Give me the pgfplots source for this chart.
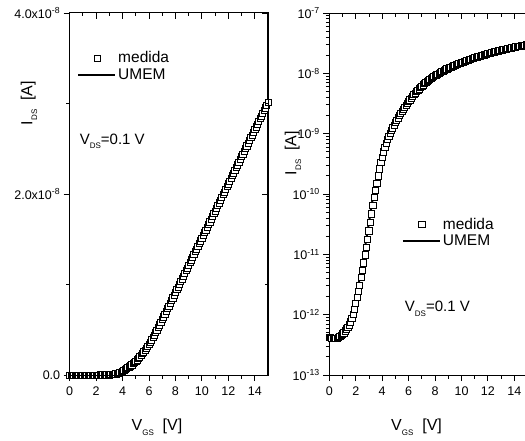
\documentclass[border=0pt]{standalone}
\usepackage{fontspec}
\setmainfont{Liberation Sans}
\usepackage{pgfplots}
\usepackage{pgfplotstable}
\pgfplotsset{compat=1.18}
\newcommand{\sub}[1]{\raisebox{-0.55ex}{\fontsize{8}{8}\selectfont #1}}

% V [V], m = medida [A], u = UMEM [A]
\pgfplotstableread{
V m u
0.0 4.2e-13 4.2e-13
0.1 4.2e-13 4.2e-13
0.2 4.1e-13 4.1e-13
0.3 4.0e-13 4.0e-13
0.4 4.0e-13 4.0e-13
0.5 4.0e-13 4.0e-13
0.6 4.1e-13 4.1e-13
0.7 4.2e-13 4.2e-13
0.8 4.4e-13 4.4e-13
0.9 4.6e-13 4.6e-13
1.0 4.8e-13 4.8e-13
1.1 5.0e-13 5.0e-13
1.2 5.4e-13 5.4e-13
1.3 5.8e-13 5.8e-13
1.4 6.2e-13 6.5e-13
1.5 6.8e-13 7.4e-13
1.6 7.6e-13 8.7e-13
1.7 8.7e-13 1.0e-12
1.8 1.0e-12 1.23e-12
1.9 1.23e-12 1.55e-12
2.0 1.55e-12 1.95e-12
2.1 1.95e-12 2.45e-12
2.2 2.45e-12 3.1e-12
2.3 3.1e-12 4.1e-12
2.4 4.1e-12 5.4e-12
2.5 5.4e-12 7.2e-12
2.6 7.2e-12 9.8e-12
2.7 9.8e-12 1.32e-11
2.8 1.32e-11 1.78e-11
2.9 1.78e-11 2.45e-11
3.0 2.45e-11 3.4e-11
3.1 3.4e-11 4.7e-11
3.2 4.7e-11 6.5e-11
3.3 6.5e-11 8.7e-11
3.4 8.7e-11 1.15e-10
3.5 1.15e-10 1.51e-10
3.6 1.51e-10 2.0e-10
3.7 2.0e-10 2.6e-10
3.8 2.6e-10 3.3e-10
3.9 3.3e-10 4.1e-10
4.0 4.1e-10 5.0e-10
4.1 5.0e-10 6.0e-10
4.2 6.0e-10 7.0e-10
4.3 7.0e-10 8.0e-10
4.4 8.0e-10 9.0e-10
4.5 9.0e-10 1.0e-9
4.6 1.0e-9 1.12e-9
4.7 1.12e-9 1.25e-9
4.8 1.25e-9 1.38e-9
4.9 1.38e-9 1.52e-9
5.0 1.52e-9 1.67e-9
5.1 1.67e-9 1.83e-9
5.2 1.83e-9 2.0e-9
5.3 2.0e-9 2.17e-9
5.4 2.17e-9 2.35e-9
5.5 2.35e-9 2.55e-9
5.6 2.55e-9 2.75e-9
5.7 2.75e-9 2.96e-9
5.8 2.96e-9 3.17e-9
5.9 3.17e-9 3.4e-9
6.0 3.4e-9 3.64e-9
6.1 3.64e-9 3.89e-9
6.2 3.89e-9 4.15e-9
6.3 4.15e-9 4.42e-9
6.4 4.42e-9 4.69e-9
6.5 4.69e-9 4.97e-9
6.6 4.97e-9 5.25e-9
6.7 5.25e-9 5.54e-9
6.8 5.54e-9 5.83e-9
6.9 5.83e-9 6.12e-9
7.0 6.12e-9 6.42e-9
7.1 6.42e-9 6.72e-9
7.2 6.72e-9 7.02e-9
7.3 7.02e-9 7.32e-9
7.4 7.32e-9 7.62e-9
7.5 7.62e-9 7.92e-9
7.6 7.92e-9 8.22e-9
7.7 8.22e-9 8.52e-9
7.8 8.52e-9 8.82e-9
7.9 8.82e-9 9.12e-9
8.0 9.12e-9 9.42e-9
8.1 9.42e-9 9.72e-9
8.2 9.72e-9 10.02e-9
8.3 10.02e-9 10.32e-9
8.4 10.32e-9 10.62e-9
8.5 10.62e-9 10.92e-9
8.6 10.92e-9 11.22e-9
8.7 11.22e-9 11.52e-9
8.8 11.52e-9 11.82e-9
8.9 11.82e-9 12.12e-9
9.0 12.12e-9 12.42e-9
9.1 12.42e-9 12.72e-9
9.2 12.72e-9 13.02e-9
9.3 13.02e-9 13.32e-9
9.4 13.32e-9 13.62e-9
9.5 13.62e-9 13.92e-9
9.6 13.92e-9 14.22e-9
9.7 14.22e-9 14.52e-9
9.8 14.52e-9 14.82e-9
9.9 14.82e-9 15.12e-9
10.0 15.12e-9 15.42e-9
10.1 15.42e-9 15.72e-9
10.2 15.72e-9 16.02e-9
10.3 16.02e-9 16.32e-9
10.4 16.32e-9 16.62e-9
10.5 16.62e-9 16.92e-9
10.6 16.92e-9 17.22e-9
10.7 17.22e-9 17.52e-9
10.8 17.52e-9 17.82e-9
10.9 17.82e-9 18.12e-9
11.0 18.12e-9 18.42e-9
11.1 18.42e-9 18.72e-9
11.2 18.72e-9 19.02e-9
11.3 19.02e-9 19.32e-9
11.4 19.32e-9 19.62e-9
11.5 19.62e-9 19.92e-9
11.6 19.92e-9 20.22e-9
11.7 20.22e-9 20.52e-9
11.8 20.52e-9 20.82e-9
11.9 20.82e-9 21.12e-9
12.0 21.12e-9 21.42e-9
12.1 21.42e-9 21.72e-9
12.2 21.72e-9 22.02e-9
12.3 22.02e-9 22.32e-9
12.4 22.32e-9 22.62e-9
12.5 22.62e-9 22.92e-9
12.6 22.92e-9 23.22e-9
12.7 23.22e-9 23.52e-9
12.8 23.52e-9 23.82e-9
12.9 23.82e-9 24.12e-9
13.0 24.12e-9 24.42e-9
13.1 24.42e-9 24.72e-9
13.2 24.72e-9 25.02e-9
13.3 25.02e-9 25.32e-9
13.4 25.32e-9 25.62e-9
13.5 25.62e-9 25.92e-9
13.6 25.92e-9 26.22e-9
13.7 26.22e-9 26.52e-9
13.8 26.52e-9 26.82e-9
13.9 26.82e-9 27.12e-9
14.0 27.12e-9 27.42e-9
14.1 27.42e-9 27.72e-9
14.2 27.72e-9 28.02e-9
14.3 28.02e-9 28.32e-9
14.4 28.32e-9 28.62e-9
14.5 28.62e-9 28.92e-9
14.6 28.92e-9 29.22e-9
14.7 29.22e-9 29.52e-9
14.8 29.52e-9 29.82e-9
14.9 29.82e-9 30.12e-9
15.0 30.12e-9 30.42e-9
}\datatable

\pgfplotsset{
  common/.style={
    scale only axis, width=198.3pt, height=362pt,
    anchor=south west,
    xmin=0, xmax=15,
    xtick={0,2,4,6,8,10,12,14},
    minor xtick={1,3,5,7,9,11,13},
    axis line style={line width=1pt},
    major tick length=6pt, minor tick length=3.5pt,
    every tick/.style={black, line width=0.9pt},
    tick label style={font=\fontsize{12.5}{12.5}\selectfont},
    xticklabel style={yshift=-2pt},
    /pgf/number format/assume math mode=true,
    scaled y ticks=false,
  },
  linY/.style={
    ymin=0, ymax=4e-8,
    ytick={0,2e-8,4e-8},
    minor ytick={1e-8,3e-8},
  },
  logY/.style={
    ymin=1e-13, ymax=1e-7,
    ytick={1e-13,1e-12,1e-11,1e-10,1e-9,1e-8,1e-7},
    minor ytick={2e-13,3e-13,4e-13,5e-13,6e-13,7e-13,8e-13,9e-13,
                 2e-12,3e-12,4e-12,5e-12,6e-12,7e-12,8e-12,9e-12,
                 2e-11,3e-11,4e-11,5e-11,6e-11,7e-11,8e-11,9e-11,
                 2e-10,3e-10,4e-10,5e-10,6e-10,7e-10,8e-10,9e-10,
                 2e-9,3e-9,4e-9,5e-9,6e-9,7e-9,8e-9,9e-9,
                 2e-8,3e-8,4e-8,5e-8,6e-8,7e-8,8e-8,9e-8},
  },
  mainax/.style={
    tick pos=left, tick align=outside,
    xlabel={V\sub{GS}\ \ [V]},
    xlabel style={font=\fontsize{16}{16}\selectfont, at={(axis description cs:0.44,-0.1436)}, anchor=center},
    ylabel style={font=\fontsize{16}{16}\selectfont, anchor=center},
    legend cell align=left,
    legend style={draw=none, fill=none, anchor=north west, inner sep=0pt,
      font=\fontsize{15.5}{15.5}\selectfont, row sep=0pt,
      /tikz/every even column/.append style={column sep=5pt}},
  },
  overax/.style={
    tick pos=right, tick align=inside,
    xticklabels={}, yticklabels={},
  },
  meas/.style={only marks, mark=square*, mark size=3.1pt,
    mark options={draw=black, fill=white, line width=0.75pt},
    legend image code/.code={\draw[draw=none] (0pt,0pt) -- (37pt,0pt);
      \draw[mark repeat=2,mark phase=2,##1] plot coordinates {(0pt,0pt)(19pt,0pt)(37pt,0pt)};}},
  model/.style={no marks, black, line width=2pt,
    legend image code/.code={\draw[##1] (0pt,0pt) -- (37pt,0pt);}},
}

\begin{document}
\begin{tikzpicture}
% ---------- left panel (linear) ----------
\begin{axis}[common, linY, mainax, at={(69.7pt,65pt)},
  yticklabels={0.0, 2.0x10\textsuperscript{-8}, 4.0x10\textsuperscript{-8}},
  ylabel={I\sub{DS}\ \ [A]},
  ylabel style={at={(axis description cs:-0.205,0.751)}},
  legend style={at={(axis description cs:0.037,0.899)}}]
\addplot[meas] table[x=V, y=m] {\datatable};
\addlegendentry{medida}
\addplot[model] table[x=V, y=u] {\datatable};
\addlegendentry{UMEM}
\node[anchor=west, font=\fontsize{15}{15}\selectfont] at (axis cs:0.5,2.585e-8) {V\sub{DS}=0.1 V};
\end{axis}
\begin{axis}[common, linY, overax, at={(69.7pt,65pt)}]
\addplot[draw=none, forget plot] table[x=V, y=m] {\datatable};
\end{axis}
% ---------- right panel (log) ----------
\begin{axis}[ymode=log, common, logY, mainax, at={(329.3pt,65pt)},
  yticklabels={10\textsuperscript{-13},10\textsuperscript{-12},10\textsuperscript{-11},10\textsuperscript{-10},10\textsuperscript{-9},10\textsuperscript{-8},10\textsuperscript{-7}},
  ylabel={I\sub{DS}\ \ [A]},
  ylabel style={at={(axis description cs:-0.183,0.613)}},
  legend style={at={(axis description cs:0.365,0.44)}}]
\addplot[meas] table[x=V, y=m] {\datatable};
\addlegendentry{medida}
\addplot[model] table[x=V, y=u] {\datatable};
\addlegendentry{UMEM}
\node[anchor=west, font=\fontsize{15}{15}\selectfont] at (axis cs:5.45,1.25e-12) {V\sub{DS}=0.1 V};
\end{axis}
\begin{axis}[ymode=log, common, logY, at={(329.3pt,65pt)},
  axis x line*=top, axis y line=none, tick align=inside, xticklabels={}]
\addplot[draw=none, forget plot] table[x=V, y=m] {\datatable};
\end{axis}
\pgfresetboundingbox
\path[use as bounding box] (0,0) rectangle (525pt,440pt);
\end{tikzpicture}
\end{document}
